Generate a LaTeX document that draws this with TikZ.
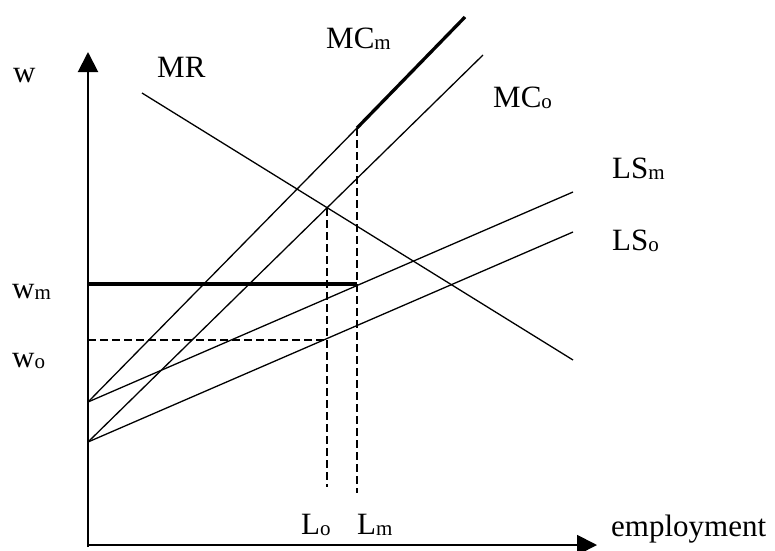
\documentclass[tikz,border=0pt]{standalone}
\usepackage{fontspec}
\setmainfont{Liberation Serif}
\usetikzlibrary{arrows.meta}
\newcommand{\lbsub}[1]{\raisebox{-1.5pt}{\fontsize{21}{21}\selectfont #1}}
\begin{document}
\begin{tikzpicture}[x=1pt,y=-1pt,
  axisline/.style={line width=2pt,-{Triangle[length=20pt,width=20pt]}},
  curve/.style={line width=1.3pt},
  boldline/.style={line width=3.3pt},
  guide/.style={line width=1.3pt,dash pattern=on 8pt off 4pt},
  lbl/.style={inner sep=0pt,anchor=base west,font=\fontsize{31}{36}\selectfont}]
\useasboundingbox (0,0) rectangle (775,550);
% axes
\coordinate (Ytop) at (88,52);
\coordinate (Xend) at (597,545);
\coordinate (Ob) at (88,547);
\coordinate (Ol) at (87,545);
\draw[axisline] (Ob) -- (Ytop);
\draw[axisline] (Ol) -- (Xend);
% curves
\coordinate (A) at (88,402);
\coordinate (B) at (88,442);
\coordinate (MRs) at (142,93);
\coordinate (MRe) at (573,360);
\coordinate (LSme) at (573,192);
\coordinate (LSoe) at (573,232);
\coordinate (MCme) at (465,17);
\coordinate (MCoe) at (483,55);
\coordinate (Pm) at (357,128);
\coordinate (Po) at (327,208);
\coordinate (Wm) at (88,284);
\coordinate (Qm) at (357,284);
\coordinate (Wo) at (88,340);
\coordinate (Qo) at (327,340);
\coordinate (Lob) at (327,487);
\coordinate (Lmb) at (357,493);
\draw[curve] (MRs) -- (MRe);
\draw[curve] (A) -- (LSme);
\draw[curve] (B) -- (LSoe);
\draw[curve] (A) -- (Pm);
\draw[boldline] (Pm) -- (MCme);
\draw[curve] (B) -- (MCoe);
\draw[boldline] (Wm) -- (Qm);
\draw[guide] (Wo) -- (Qo);
\draw[guide] (Po) -- (Lob);
\draw[guide] (Pm) -- (Lmb);
% labels
\node[lbl] (lw) at (13,82) {w};
\node[lbl] (lMR) at (157,77) {MR};
\node[lbl] (lMCm) at (326,48) {MC\lbsub{m}};
\node[lbl] (lMCo) at (493,107) {MC\lbsub{o}};
\node[lbl] (lLSm) at (612,178) {LS\lbsub{m}};
\node[lbl] (lLSo) at (612,250) {LS\lbsub{o}};
\node[lbl] (lwm) at (12,298) {w\lbsub{m}};
\node[lbl] (lwo) at (12,367) {w\lbsub{o}};
\node[lbl] (lLo) at (301,534) {L\lbsub{o}};
\node[lbl] (lLm) at (357,534) {L\lbsub{m}};
\node[lbl] (lemp) at (611,536) {employment};
\end{tikzpicture}
\end{document}
